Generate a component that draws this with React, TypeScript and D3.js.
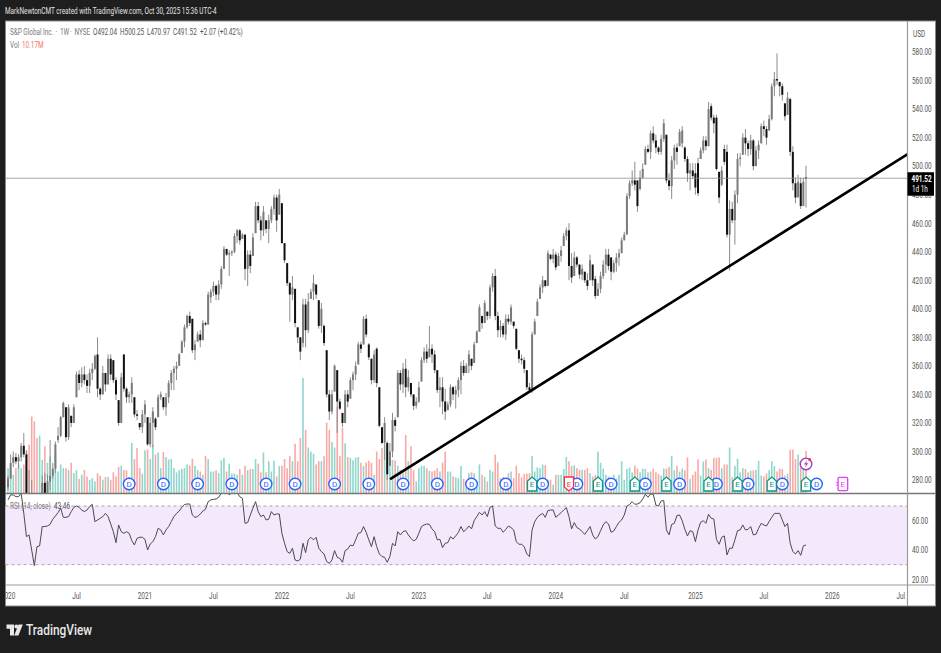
import * as d3 from 'd3';

const WIDTH = 941;
const HEIGHT = 653;

// Weekly bars, first bar is the week of 2020-01-06
const opens = [
    275,281,292,296,293,296,304,298,264,258,
    240,225,200,246,278,270,279,283,288,308,
    311,324,331,310,325,320,338,354,348,354,
    350,346,355,358,368,344,340,355,347,365,
    364,350,336,320,368,344,338,340,338,326,
    320,317,326,324,305,320,323,324,338,338,
    331,338,348,355,358,360,369,377,387,395,
    393,371,377,382,378,390,389,408,412,416,
    410,417,428,442,438,439,440,451,455,449,
    452,428,438,437,453,472,462,455,462,456,
    462,470,478,466,474,446,432,418,410,414,
    387,380,376,403,385,407,412,417,406,388,
    388,371,340,328,342,357,335,327,320,340,
    337,350,354,361,375,375,393,375,365,350,
    372,345,317,306,306,290,300,322,324,355,
    347,358,345,348,340,332,335,349,364,370,
    366,372,368,357,343,345,335,329,333,345,
    340,343,350,360,355,360,365,362,376,384,
    395,390,398,395,415,423,395,385,388,382,
    393,391,391,386,371,365,364,357,345,343,
    382,395,407,415,420,416,438,435,438,430,
    437,444,451,455,430,423,436,431,424,426,
    420,420,431,421,409,414,423,431,438,436,
    426,432,436,439,448,452,479,488,490,490,
    484,492,501,512,510,523,518,513,510,519,
    522,490,486,504,513,514,516,513,505,495,
    497,495,502,505,511,518,514,542,534,534,
    496,487,512,510,452,470,462,480,505,508,
    520,516,512,518,500,511,516,528,526,525,
    533,556,561,559,556,544,536,547,510,488,
    478,488,472,492.04,
];
const highs = [
    283,298,300,299,298,306,313,301,287,280,
    252,240,250,283,285,284,308,292,307,317,
    325,335,331,333,325,333,356,357,359,360,
    354,358,362,368,380,345,360,352,368,368,
    364,352,336,355,368,345,342,352,338,329,
    320,329,336,324,324,331,324,340,342,338,
    341,350,357,360,363,369,378,389,396,398,
    393,378,384,385,392,391,412,414,419,417,
    420,430,444,441,441,441,453,456,456,453,
    452,441,441,453,475,475,465,472,462,466,
    472,480,480,484,474,446,432,419,423,414,
    387,380,407,407,411,414,424,417,406,404,
    389,371,343,343,361,357,337,327,343,343,
    352,356,363,377,377,395,396,376,365,371,
    373,345,317,324,307,306,327,324,357,357,
    362,365,357,348,340,338,349,366,373,375,
    388,375,371,357,352,352,344,335,347,346,
    346,352,363,364,362,371,365,377,385,403,
    395,406,398,417,425,428,398,392,390,396,
    396,403,391,386,371,368,366,357,348,384,
    393,407,417,423,420,441,438,442,440,439,
    444,453,457,460,439,440,437,431,431,426,
    425,438,431,423,418,426,434,442,442,436,
    434,439,442,450,454,481,490,497,503,490,
    497,502,514,515,525,528,522,514,522,533,
    522,495,507,515,516,526,528,514,507,502,
    502,502,506,513,521,521,545,544,536,536,
    496,500,515,515,476,475,483,509,509,523,
    526,518,522,519,514,518,530,532,528,536,
    558,566,579,559,558,544,552,548,514,492,
    494,492,492,500.25,
];
const lows = [
    273,281,289,291,288,293,296,262,254,230,
    200,186,195,244,262,262,273,281,285,306,
    310,324,307,308,317,320,338,343,345,347,
    341,341,350,357,338,336,340,342,347,350,
    348,336,318,320,342,334,334,334,324,322,
    315,313,320,304,303,303,315,324,336,329,
    325,334,343,343,350,360,369,373,386,388,
    369,364,377,373,378,388,389,404,409,406,
    406,414,428,437,423,437,439,446,445,449,
    420,416,425,437,453,460,448,451,453,446,
    460,466,454,466,446,432,416,391,406,387,
    376,364,373,373,383,407,406,407,386,383,
    374,338,322,326,342,313,329,317,320,331,
    337,343,350,361,369,375,380,364,347,348,
    345,317,305,294,280,290,296,314,324,343,
    341,338,342,338,329,330,334,349,362,362,
    366,362,355,341,331,326,322,329,331,336,
    330,338,340,353,355,355,357,362,376,384,
    386,390,392,393,412,392,380,380,380,378,
    389,389,386,371,362,361,355,343,342,341,
    382,395,407,411,415,416,434,432,427,430,
    433,444,448,420,418,423,429,421,420,418,
    413,420,416,407,409,411,421,425,427,420,
    425,426,430,439,448,452,477,486,483,468,
    483,491,501,509,505,516,509,508,508,517,
    488,483,477,498,501,514,513,503,489,483,
    491,480,479,505,509,511,514,532,523,497,
    474,486,501,450,427,460,445,474,500,508,
    508,507,508,497,500,505,516,521,515,525,
    532,549,557,549,546,532,536,507,483,474,
    479,470,472,470.97,
];
const closes = [
    281,292,296,293,296,304,298,264,258,240,
    225,200,246,278,270,279,283,288,305,311,
    324,334,310,331,320,331,354,348,354,350,
    346,355,358,367,344,340,355,347,365,354,
    350,340,320,352,344,338,340,348,326,325,
    317,326,333,305,320,328,317,338,340,331,
    338,348,355,358,360,368,377,387,395,390,
    371,375,382,378,390,389,410,412,416,410,
    417,428,442,438,439,440,451,455,448,452,
    428,438,430,450,472,462,455,468,456,462,
    470,478,462,480,446,434,418,410,415,390,
    380,370,403,385,405,412,418,410,388,400,
    376,340,328,340,360,335,330,320,340,335,
    350,354,360,375,372,393,382,366,350,368,
    348,318,306,320,284,300,322,318,355,347,
    358,345,352,340,332,335,345,364,370,365,
    372,368,357,343,345,335,328,333,345,340,
    343,350,360,355,360,368,360,375,384,401,
    390,404,395,415,423,395,385,388,382,393,
    391,401,388,372,365,364,358,345,343,382,
    391,405,415,420,416,439,435,438,429,437,
    441,451,455,430,422,436,431,424,428,420,
    416,434,420,409,414,423,431,438,430,426,
    432,436,439,448,452,479,488,490,487,472,
    492,498,512,510,523,518,513,510,519,530,
    490,486,504,513,510,524,525,505,495,497,
    493,485,481,511,518,514,540,534,530,498,
    478,497,503,452,470,462,480,505,506,520,
    516,512,518,500,511,515,528,526,520,533,
    556,561,560,556,550,535,548,510,488,478,
    489,472,489,491.52,
];
const volumes = [
    6,5.6,4.4,6,6.9,6,6.9,10,11.7,18.5,
    17.3,13.3,13.9,8,11.3,7.3,8.9,5.2,9.7,5.2,
    6.9,6,6,5.6,7.3,4.8,5.5,3.4,4.4,5.6,
    4,3.2,3.6,2.8,4.8,4.2,3.2,3.9,3.9,3.2,
    5,4,6.3,6.6,5.6,5.5,3.9,12.1,8.2,10.9,
    6,4.7,10.3,10.5,8.2,11.7,9.3,9.8,6,9.9,
    8.7,8.1,8.2,6,5,5.5,5.8,6,6.9,6.6,
    8.3,6.6,5.6,5.2,4.4,9,8.2,5.2,5.2,5.5,
    4.8,7.9,8.5,5.2,7.1,4.7,4.7,4.4,5.8,4.4,
    6.6,5.5,5.8,5.8,8.2,7.1,5,9.8,5,7.7,
    5.2,7.8,4,6.5,6.6,8.2,6,8.9,7.7,11.9,
    7.7,13.3,27.8,15.3,11,10,9.5,6.9,7.7,7.7,
    8.9,17,15.3,12.3,11,20.8,8.9,15.7,12,8.7,
    8.5,7.9,8.5,8.7,7.3,6.5,7.4,7.8,7.3,4.4,
    10,8.2,10.9,11.7,11.7,8,8,7.9,6.6,5.6,
    5,14,7.7,11.3,5.6,2.8,6,6.5,6.6,6,
    5.4,5.2,5.5,6,5.2,7.4,10,5.2,5.2,4,
    3.8,3.6,6.5,3.4,2.4,4.8,5,4.8,2.8,6.9,
    4.4,3.9,2.8,5.6,5.2,9.3,7.4,3.6,3.9,3.6,
    4.8,5.2,3.6,6.6,4.8,3.8,4.6,4.7,4.8,8.9,
    5.2,6.2,6,6.9,6.7,3.2,3.2,2,4.4,4.4,
    4.4,5.8,8.7,7.7,6.5,6.7,6,5.6,5.6,5.6,
    6,4.8,4,4.4,10,7.3,5.9,4.4,4,3.6,
    4.4,3.5,4.4,7.7,3.2,5.8,6.1,5,6.6,5.9,
    5,5.9,5.8,5,5.2,5.9,5,4.6,4.2,5.9,
    5.9,6.3,9,5.5,6.6,5.2,5.9,5.5,8.6,3.4,
    4.4,5.2,8.1,4.2,7.6,8.1,6,5.6,8.5,8.5,
    8.6,6,6.9,6.9,11,3.8,6.5,8.3,5,6,
    5.8,5,5.4,5.5,5.6,7.8,4.2,4,4.7,5.5,
    7.7,6.5,5.2,5.9,5.8,4.2,4.7,10.5,10.5,8.2,
    9.3,6.6,8.1,10.17,
];
const rsiValues = [
    74.2,77.6,77.6,76.4,76.4,78.7,65,49.1,50.3,40,
    29.3,42.3,42.8,56,56,56.4,57.5,61,63.2,65.5,
    68.5,62.3,62.3,62.8,66.2,69.1,70,69.1,67.3,66.2,
    67.3,69.6,71.2,59.4,60.5,61.6,62.8,65,62.8,57.8,
    52.5,45,57.1,52.5,51.4,52.5,51.4,46.4,43.4,48,
    48.7,48.7,47.3,40,44.1,45.7,49.1,54.8,53.7,50.3,
    53.7,56,59.4,62.8,65,66.6,69.1,71,71.4,71.4,
    63.9,62.3,62.8,64.6,66.6,67.8,73,74.2,74.6,74.8,
    76,78.7,81,80.5,77.6,79.2,80.5,79.2,76.4,75.3,
    58.2,58.7,63.9,68.5,73,66.2,62.8,63.9,60.5,61,
    66.2,63.9,64.6,64.6,51.4,44.6,38.9,37.7,41.2,33.2,
    32.5,33.7,44.6,38.2,46.9,48.7,46.9,48.7,41.2,38.9,
    37.3,32.1,30.9,33.2,39.6,35,34.3,31.6,39.6,40.7,
    43.4,42.8,46.9,51.4,51.9,56,52.1,46.9,42.3,49.1,
    42.3,37.3,35.5,35,31.6,35.5,44.6,42.8,52.5,50.3,
    52.5,53.2,50.3,48,46.2,47.3,51.4,56,57.1,57.8,
    57.5,54.4,52.5,46.9,47.3,41.6,44.6,45,49.1,47.5,
    49.6,51.9,56,52.5,54.1,56.4,54.4,60,62.8,65.7,
    63.9,66.2,62.8,69.1,70,56.4,54.8,54.8,52.1,54.1,
    56.4,55.3,53.7,45.7,43.9,43.9,42.3,37.3,35.5,53.7,
    59.4,62.3,63.9,65,62.3,66.9,67.3,67.3,62.3,63.9,
    65.5,67.3,68.9,62.8,54.4,58.7,55.3,54.4,52.5,50.7,
    53.2,56,50.3,47.5,49.1,53.2,57.1,59.4,57.8,52.1,
    53,56,58.9,60.5,63.9,70,71,73,71.2,71.4,
    72.3,74.8,78,76,78.2,78,70.7,70,73.5,73.7,
    53.7,50.3,57.5,58.2,63.5,63.9,60,54.1,49.6,53.2,
    52.5,45.7,53.7,58.9,60,58.2,64.4,61.6,61.2,47.3,
    43.9,48.7,49.6,36.6,41.2,41.2,46.9,53.2,53.7,57.1,
    53.7,54.1,56,50.3,50.7,54.8,58.2,57.1,56.4,59.4,
    62.3,65,65,65,60.5,56,58.2,44.6,38.9,37.3,
    39.6,36.4,42.8,43.46,
];

const priceTicks = [580, 560, 540, 520, 500, 480, 460, 440, 420, 400, 380, 360, 340, 320, 300, 280];
const rsiTicks = [60, 40, 20];
const timeTicks = [
    { bar: 0, label: '2020' }, { bar: 26, label: 'Jul' },
    { bar: 52, label: '2021' }, { bar: 78, label: 'Jul' },
    { bar: 104, label: '2022' }, { bar: 130, label: 'Jul' },
    { bar: 156, label: '2023' }, { bar: 182, label: 'Jul' },
    { bar: 208, label: '2024' }, { bar: 234, label: 'Jul' },
    { bar: 261, label: '2025' }, { bar: 287, label: 'Jul' },
    { bar: 313, label: '2026' }, { bar: 339, label: 'Jul' },
];

const legendItems = [
    { at: 10, text: 'S&P Global Inc.' },
    { at: 55.5, text: '·' },
    { at: 60, text: '1W' },
    { at: 70, text: '·' },
    { at: 74.5, text: 'NYSE' },
    { at: 93, text: 'O492.04' },
    { at: 120, text: 'H500.25' },
    { at: 147, text: 'L470.97' },
    { at: 173, text: 'C491.52' },
    { at: 200, text: '+2.07 (+0.42%)' },
];

const dividendBars = [46, 59, 72, 85, 98, 109, 124, 137, 150, 163, 176, 189, 203, 216, 229, 242, 255, 269, 281, 294, 307];
const earningsUpBars = [199, 224, 238, 250, 266, 277, 290, 303];
const earningsDownBars = [213];
const nextEarningsBar = 317;
const splitFlashBar = 303;

const trendBars = [145.4, 341.3];
const trendPrices = [281, 508];

const lastClose = 491.52;

const FONT = 'Roboto, "Open Sans", sans-serif';

// chart frame in page pixels
const left = 5.5;
const right = 935.5;
const axisX = 907.5;
const top = 21;
const paneBottom = 493.5;
const timeY = 585;
const bottom = 606;

const x = d3.scaleLinear().domain([0, 303]).range([8, 806]);
const y = d3.scaleLinear().domain([580, 280]).range([52, 480]);
const yVol = d3.scaleLinear().domain([0, 27.8]).range([493, 378]);
const yRsi = d3.scaleLinear().domain([60, 20]).range([520.7, 579.3]);

const rsiLine = d3
    .line<number>()
    .x((_, i) => x(i))
    .y((d) => yRsi(d));

const trendLine = d3
    .line<number>()
    .x((d) => x(d))
    .y((_, i) => y(trendPrices[i]));

// the screenshot is squeezed sideways, so the text is too
function Txt({ px, py, sx = 0.71, size = 9, fill = '#555', anchor = 'start', weight = 400, children }: any) {
    return (
        <text
            transform={`translate(${px},${py}) scale(${sx},1)`}
            fontSize={size}
            fill={fill}
            textAnchor={anchor}
            fontWeight={weight}
            fontFamily={FONT}
        >
            {children}
        </text>
    );
}

function DividendMark({ bar }: { bar: number }) {
    return (
        <g transform={`translate(${x(bar)},484)`}>
            <circle r={5.8} fill="#fff" stroke="#2962ff" strokeWidth={1.4} />
            <text y={2.9} fontSize={8} fill="#2962ff" textAnchor="middle" fontFamily={FONT}>D</text>
        </g>
    );
}

function EarningsMark({ bar, up }: { bar: number; up: boolean }) {
    const color = up ? '#089981' : '#f23645';
    const shape = up ? 'M-4.6,7 V-3 L0,-7 L4.6,-3 V7 Z' : 'M-4.6,-7 V3 L0,7 L4.6,3 V-7 Z';
    return (
        <g transform={`translate(${x(bar)},484)`}>
            <path d={shape} fill="#fff" stroke={color} strokeWidth={1.3} />
            <text y={2.9} fontSize={8} fill={color} textAnchor="middle" fontFamily={FONT}>E</text>
        </g>
    );
}

export default function App() {
    const barWidth = 2;
    return (
        <svg
            width={WIDTH}
            height={HEIGHT}
            viewBox={`0 0 ${WIDTH} ${HEIGHT}`}
            style={{ position: 'absolute', left: 0, top: 0, display: 'block' }}
        >
            <defs>
                <clipPath id="pricePane">
                    <rect x={left} y={top} width={axisX - left} height={paneBottom - top} />
                </clipPath>
                <clipPath id="rsiPane">
                    <rect x={left} y={paneBottom} width={axisX - left} height={timeY - paneBottom} />
                </clipPath>
                <clipPath id="timePane">
                    <rect x={left} y={timeY} width={axisX - left} height={bottom - timeY} />
                </clipPath>
            </defs>

            <rect width={WIDTH} height={HEIGHT} fill="#1e1e1e" />
            <rect x={left} y={top} width={right - left} height={bottom - top} fill="#fff" stroke="#8a8a8a" />

            <Txt px={5} py={14} fill="#e4e4e4">
                MarkNewtonCMT created with TradingView.com, Oct 30, 2025 15:36 UTC-4
            </Txt>

            {/* Volume */}
            <g clipPath="url(#pricePane)">
                {volumes.map((v, i) => (
                    <rect
                        key={i}
                        x={x(i) - 0.8}
                        y={yVol(v)}
                        width={1.6}
                        height={yVol(0) - yVol(v)}
                        fill={closes[i] < opens[i] ? '#f9a9a5' : '#8fd6cc'}
                    />
                ))}
            </g>

            {/* Candles */}
            <g clipPath="url(#pricePane)">
                {opens.map((o, i) => {
                    const c = closes[i];
                    const down = c < o;
                    const bodyTop = y(Math.max(o, c));
                    const bodyH = Math.max(1, Math.abs(y(o) - y(c)));
                    return (
                        <g key={i}>
                            <line x1={x(i)} x2={x(i)} y1={y(highs[i])} y2={y(lows[i])} stroke="#8c8c8c" strokeWidth={1} />
                            <rect
                                x={x(i) - barWidth / 2}
                                y={bodyTop}
                                width={barWidth}
                                height={bodyH}
                                fill={down ? '#111' : '#7a7a7a'}
                            />
                        </g>
                    );
                })}
                <line x1={left} x2={axisX} y1={y(lastClose)} y2={y(lastClose)} stroke="#8f8f8f" strokeWidth={0.8} />
                <path d={trendLine(trendBars) ?? ''} fill="none" stroke="#000" strokeWidth={2.6} strokeLinecap="round" />
                {dividendBars.map((b) => <DividendMark key={b} bar={b} />)}
                {earningsUpBars.map((b) => <EarningsMark key={b} bar={b} up />)}
                {earningsDownBars.map((b) => <EarningsMark key={b} bar={b} up={false} />)}
                <g transform={`translate(${x(nextEarningsBar)},484)`}>
                    <rect x={-4.8} y={-6.6} width={9.6} height={13.2} rx={1} fill="#fff" stroke="#e040fb" strokeWidth={1.3} />
                    <path d="M-6.6,-1.5 H-4.8 M-6.6,1 H-4.8" stroke="#e040fb" strokeWidth={1} />
                    <text y={2.9} fontSize={8} fill="#e040fb" textAnchor="middle" fontFamily={FONT}>E</text>
                </g>
                <g transform={`translate(${x(splitFlashBar)},464)`}>
                    <circle r={5.8} fill="#fff" stroke="#a53bbd" strokeWidth={1.4} />
                    <path d="M1,-3.8 L-2,0.6 H0 L-1,3.8 L2.2,-0.8 H0.2 Z" fill="#a53bbd" />
                    <circle cx={3.6} cy={-4.6} r={1.5} fill="#f23645" />
                </g>
            </g>

            {legendItems.map((item) => (
                <Txt key={item.at} px={item.at} py={35} fill={item.at < 90 ? '#777' : '#555'}>{item.text}</Txt>
            ))}
            <Txt px={10} py={48} fill="#777">Vol</Txt>
            <Txt px={22} py={48} fill="#f7706b">10.17M</Txt>

            {/* RSI */}
            <rect x={left} y={yRsi(70)} width={axisX - left} height={yRsi(30) - yRsi(70)} fill="#f4e9fc" />
            <line x1={left} x2={axisX} y1={yRsi(70)} y2={yRsi(70)} stroke="#a9a3ad" strokeDasharray="3 3" />
            <line x1={left} x2={axisX} y1={yRsi(30)} y2={yRsi(30)} stroke="#a9a3ad" strokeDasharray="3 3" />
            <g clipPath="url(#rsiPane)">
                <path d={rsiLine(rsiValues) ?? ''} fill="none" stroke="#4a4a4a" strokeWidth={1} strokeLinejoin="round" />
            </g>
            <Txt px={10} py={509} fill="#777">RSI (14, close)</Txt>
            <Txt px={54} py={509}>43.46</Txt>

            {/* Pane separators and axes */}
            <line x1={left} x2={right} y1={paneBottom} y2={paneBottom} stroke="#777" strokeWidth={1.4} />
            <line x1={left} x2={right} y1={timeY} y2={timeY} stroke="#999" strokeWidth={1.2} />
            <line x1={axisX} x2={axisX} y1={top} y2={bottom} stroke="#9a9a9a" strokeWidth={1.2} />

            <g clipPath="url(#timePane)">
                {timeTicks.map((t, i) => (
                    <Txt key={i} px={x(t.bar)} py={599} anchor="middle" size={9.5} sx={0.68}>
                        {t.label}
                    </Txt>
                ))}
            </g>

            <Txt px={913} py={37}>USD</Txt>
            {priceTicks.map((p) => (
                <Txt key={p} px={912} py={y(p) + 3.3}>{p.toFixed(2)}</Txt>
            ))}
            {rsiTicks.map((r) => (
                <Txt key={r} px={912} py={yRsi(r) + 3.3}>{r.toFixed(2)}</Txt>
            ))}

            <rect x={907.5} y={y(lastClose) - 6} width={26.5} height={23.5} fill="#000" />
            <Txt px={911.5} py={y(lastClose) + 3.4} fill="#fff" weight={700}>491.52</Txt>
            <Txt px={912} py={y(lastClose) + 14} fill="#fff">1d 1h</Txt>

            {/* Footer */}
            <g fill="#e8e8e8">
                <path d="M6.5,624.5 H14 V635.5 H10 V628.7 H6.5 Z" />
                <circle cx={16.4} cy={626.6} r={2} />
                <path d="M18.6,624.5 H22.8 L18.4,635.5 H14.2 Z" />
            </g>
            <Txt px={26} py={635} size={14.5} sx={0.82} fill="#e8e8e8" weight={500}>TradingView</Txt>
        </svg>
    );
}
